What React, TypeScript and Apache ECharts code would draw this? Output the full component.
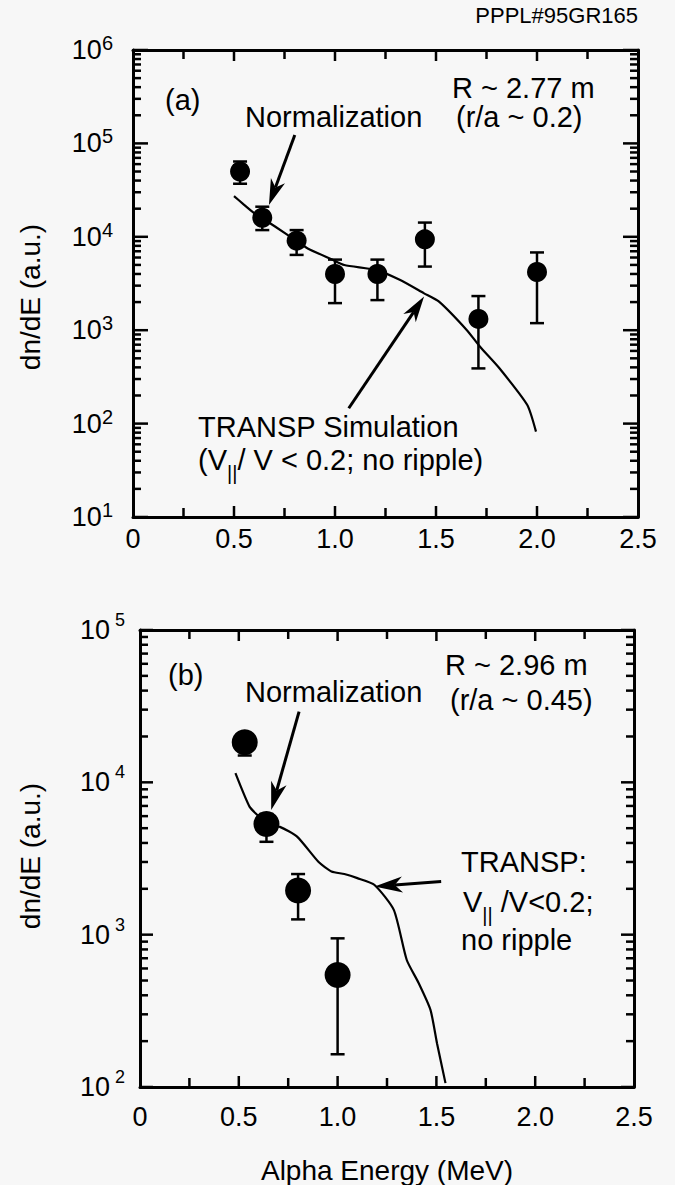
import React, { useEffect, useRef } from "react";
import * as echarts from "echarts";

const FONT = '"Liberation Sans", Arial, Helvetica, sans-serif';

// Panel (a): R ~ 2.77 m, measured alpha spectrum
const energyA = [0.53, 0.64, 0.81, 1.0, 1.21, 1.445, 1.71, 2.0];
const dndeA = [50000, 16000, 9100, 4000, 4000, 9400, 1320, 4200];
const lowA = [37000, 11800, 6400, 1950, 2100, 4800, 390, 1190];
const highA = [64000, 21000, 11800, 5700, 5700, 14200, 2320, 6800];

// Panel (a): TRANSP simulation curve
const transpEnergyA = [0.5, 0.546, 0.6, 0.64, 0.705, 0.81, 0.865, 0.983, 1.046, 1.206, 1.323, 1.441, 1.515, 1.653, 1.718, 1.814, 1.952, 1.995];
const transpA = [27300, 22400, 17900, 15800, 12800, 9000, 7500, 5740, 4990, 4400, 3440, 2480, 2020, 1000, 665, 391, 158, 82];

// Panel (b): R ~ 2.96 m, measured alpha spectrum
const energyB = [0.53, 0.64, 0.8, 1.0];
const dndeB = [18300, 5330, 1950, 543];
const lowB = [15000, 4070, 1260, 164];
const highB = [20500, 6200, 2500, 946];

// Panel (b): TRANSP simulation curve
const transpEnergyB = [0.483, 0.555, 0.6, 0.64, 0.708, 0.795, 0.904, 0.969, 1.034, 1.1, 1.187, 1.285, 1.35, 1.41, 1.47, 1.503, 1.546];
const transpB = [11500, 6900, 6000, 5300, 5100, 4400, 3000, 2600, 2500, 2350, 2120, 1450, 682, 482, 321, 194, 106];

// Annotation arrows: [fromEnergy, fromValue, toEnergy, toValue]
const arrowsA = [
  [0.801, 123000, 0.673, 21900],
  [1.068, 146, 1.441, 2290],
];
const arrowsB = [
  [0.805, 29100, 0.664, 6590],
  [1.524, 2230, 1.187, 2070],
];

// Axis ranges and tick positions
const xMajorTicks = [0.5, 1.0, 1.5, 2.0];
const xMinorTicks = [0.25, 0.75, 1.25, 1.75, 2.25];
const xRange = [0, 2.5];
const yRangeA = [1e1, 1e6];
const yRangeB = [1e2, 1e5];

const logTicks = (lo: number, hi: number) => {
  const major: number[] = [];
  const minor: number[] = [];
  for (let d = lo; d <= hi * 1.0001; d *= 10) {
    major.push(d);
    if (d < hi) for (let k = 2; k <= 9; k++) minor.push(k * d);
  }
  return { major, minor };
};

const BLACK = "#000";

const errorBarRenderer = (cap: number) => (params: any, api: any) => {
  const x = api.value(0);
  const p1 = api.coord([x, api.value(1)]);
  const p2 = api.coord([x, api.value(2)]);
  return {
    type: "group",
    children: [
      { type: "line", shape: { x1: p1[0], y1: p1[1], x2: p2[0], y2: p2[1] }, style: { stroke: BLACK, lineWidth: 2.5 } },
      { type: "line", shape: { x1: p1[0] - cap, y1: p1[1], x2: p1[0] + cap, y2: p1[1] }, style: { stroke: BLACK, lineWidth: 2.5 } },
      { type: "line", shape: { x1: p2[0] - cap, y1: p2[1], x2: p2[0] + cap, y2: p2[1] }, style: { stroke: BLACK, lineWidth: 2.5 } },
    ],
  };
};

const arrowRenderer = (headLen: number, headW: number) => (params: any, api: any) => {
  const a = api.coord([api.value(0), api.value(1)]);
  const b = api.coord([api.value(2), api.value(3)]);
  const dx = b[0] - a[0];
  const dy = b[1] - a[1];
  const d = Math.hypot(dx, dy) || 1;
  const ux = dx / d;
  const uy = dy / d;
  const nx = -uy;
  const ny = ux;
  const back = [b[0] - headLen * ux, b[1] - headLen * uy];
  const notch = [b[0] - headLen * 0.72 * ux, b[1] - headLen * 0.72 * uy];
  return {
    type: "group",
    children: [
      {
        type: "line",
        shape: { x1: a[0], y1: a[1], x2: notch[0], y2: notch[1] },
        style: { stroke: BLACK, lineWidth: 3 },
      },
      {
        type: "polygon",
        shape: {
          points: [
            [b[0], b[1]],
            [back[0] + (headW / 2) * nx, back[1] + (headW / 2) * ny],
            [notch[0], notch[1]],
            [back[0] - (headW / 2) * nx, back[1] - (headW / 2) * ny],
          ],
        },
        style: { fill: BLACK },
      },
    ],
  };
};

const mkAxisLine = () => ({ show: true, onZero: false, lineStyle: { color: BLACK, width: 3 } });

const xAxisPair = (grid: number, labelMargin: number) => [
  {
    type: "value",
    gridIndex: grid,
    position: "bottom",
    min: xRange[0],
    max: xRange[1],
    interval: 0.5,
    axisLine: mkAxisLine(),
    axisTick: { show: false },
    splitLine: { show: false },
    axisLabel: {
      margin: labelMargin,
      color: BLACK,
      fontFamily: FONT,
      fontSize: 27,
      lineHeight: 27,
      formatter: (v: number) => (v === 0 ? "0" : v.toFixed(1)),
    },
  },
  {
    type: "value",
    gridIndex: grid,
    position: "top",
    min: xRange[0],
    max: xRange[1],
    interval: 0.5,
    axisLine: mkAxisLine(),
    axisTick: { show: false },
    splitLine: { show: false },
    axisLabel: { show: false },
  },
];

const yAxisPair = (
  grid: number,
  range: number[],
  labelMargin: number,
  sup: { fontSize: number; pad: number; gap: number }
) => [
  {
    type: "log",
    gridIndex: grid,
    position: "left",
    min: range[0],
    max: range[1],
    axisLine: mkAxisLine(),
    axisTick: { show: false },
    splitLine: { show: false },
    axisLabel: {
      margin: labelMargin,
      formatter: (v: number) => `{b|10}{s|${Math.round(Math.log10(v))}}`,
      rich: {
        b: { fontFamily: FONT, fontSize: 27, lineHeight: 27, color: BLACK },
        s: {
          fontFamily: FONT,
          fontSize: sup.fontSize,
          lineHeight: sup.fontSize,
          color: BLACK,
          padding: [0, 0, sup.pad, sup.gap],
        },
      },
    },
  },
  {
    type: "log",
    gridIndex: grid,
    position: "right",
    min: range[0],
    max: range[1],
    axisLine: mkAxisLine(),
    axisTick: { show: false },
    splitLine: { show: false },
    axisLabel: { show: false },
  },
];

const txt = (text: string, x: number, y: number, size = 29, extra: any = {}) => ({
  type: "text",
  x,
  y,
  silent: true,
  style: {
    text,
    fill: BLACK,
    font: `${size}px ${FONT}`,
    align: "left",
    verticalAlign: "middle",
    ...extra,
  },
});

const vParRich = {
  m: { fontFamily: FONT, fontSize: 29, lineHeight: 29, color: BLACK },
  sub: { fontFamily: FONT, fontSize: 20, lineHeight: 20, color: BLACK, padding: [26, 0, 0, 0] },
};

const tickLine = (x1: number, y1: number, x2: number, y2: number) => ({
  type: "line",
  silent: true,
  z: 50,
  shape: { x1, y1, x2, y2 },
  style: { stroke: BLACK, lineWidth: 2.5 },
});

// Frame ticks (inward) for one panel, placed with the chart's own scales
const frameTicks = (chart: any, gridIndex: number, yRange: number[], yMajorLen: number) => {
  const px = (x: number, y: number) => chart.convertToPixel({ gridIndex }, [x, y]);
  const els: any[] = [];
  const { major, minor } = logTicks(yRange[0], yRange[1]);
  const addY = (v: number, len: number) => {
    const l = px(xRange[0], v);
    const r = px(xRange[1], v);
    els.push(tickLine(l[0], l[1], l[0] + len, l[1]));
    els.push(tickLine(r[0] - len, r[1], r[0], r[1]));
  };
  major.forEach((v) => addY(v, yMajorLen));
  minor.forEach((v) => addY(v, 8));
  const addX = (e: number, len: number) => {
    const b = px(e, yRange[0]);
    const t = px(e, yRange[1]);
    els.push(tickLine(b[0], b[1], b[0], b[1] - len));
    els.push(tickLine(t[0], t[1], t[0], t[1] + len));
  };
  xMajorTicks.forEach((e) => addX(e, 11));
  xMinorTicks.forEach((e) => addX(e, 9));
  return els;
};

export default function App() {
  const ref = useRef<HTMLDivElement>(null);

  useEffect(() => {
    if (!ref.current) return;
    const chart = echarts.init(ref.current, undefined, { renderer: "svg" });

    const texts: any[] = [
      txt("PPPL#95GR165", 638, 15, 22, { align: "right" }),
      // panel (a)
      txt("(a)", 165, 100),
      txt("Normalization", 245, 117),
      txt("R ~ 2.77 m", 452, 88),
      txt("(r/a ~ 0.2)", 456, 117),
      txt("TRANSP Simulation", 198, 427),
      {
        type: "text",
        x: 198,
        y: 460,
        silent: true,
        style: {
          text: "{m|(V}{sub|||}{m|/ V < 0.2; no ripple)}",
          rich: vParRich,
          align: "left",
          verticalAlign: "middle",
        },
      },
      {
        type: "text",
        x: 30,
        y: 297,
        rotation: Math.PI / 2,
        silent: true,
        style: { text: "dn/dE (a.u.)", fill: BLACK, font: `28px ${FONT}`, align: "center", verticalAlign: "middle" },
      },
      // panel (b)
      txt("(b)", 168, 675),
      txt("Normalization", 245, 692),
      txt("R ~ 2.96 m", 445, 665),
      txt("(r/a ~ 0.45)", 450, 700),
      txt("TRANSP:", 461, 862),
      {
        type: "text",
        x: 463,
        y: 902,
        silent: true,
        style: {
          text: "{m|V}{sub|||}{m| /V<0.2;}",
          rich: vParRich,
          align: "left",
          verticalAlign: "middle",
        },
      },
      txt("no ripple", 461, 940),
      {
        type: "text",
        x: 30,
        y: 856,
        rotation: Math.PI / 2,
        silent: true,
        style: { text: "dn/dE (a.u.)", fill: BLACK, font: `28px ${FONT}`, align: "center", verticalAlign: "middle" },
      },
      txt("Alpha Energy (MeV)", 387, 1170, 28, { align: "center" }),
    ];

    const option: any = {
      animation: false,
      backgroundColor: "#f7f7f7",
      grid: [
        { left: 133, top: 50, width: 505, height: 467 },
        { left: 140, top: 630, width: 494, height: 457 },
      ],
      xAxis: [...xAxisPair(0, 8), ...xAxisPair(1, 16)],
      yAxis: [
        ...yAxisPair(0, yRangeA, 20, { fontSize: 20, pad: 14, gap: 0 }),
        ...yAxisPair(1, yRangeB, 15, { fontSize: 18, pad: 20, gap: 5 }),
      ],
      series: [
        {
          type: "line",
          name: "TRANSP (a)",
          xAxisIndex: 0,
          yAxisIndex: 0,
          showSymbol: false,
          smooth: 0.2,
          lineStyle: { color: BLACK, width: 2.2 },
          data: transpEnergyA.map((e, i) => [e, transpA[i]]),
          z: 2,
        },
        {
          type: "line",
          name: "TRANSP (b)",
          xAxisIndex: 2,
          yAxisIndex: 2,
          showSymbol: false,
          smooth: 0.2,
          lineStyle: { color: BLACK, width: 2.2 },
          data: transpEnergyB.map((e, i) => [e, transpB[i]]),
          z: 2,
        },
        {
          type: "custom",
          name: "error (a)",
          xAxisIndex: 0,
          yAxisIndex: 0,
          renderItem: errorBarRenderer(7),
          encode: { x: 0, y: [1, 2] },
          data: energyA.map((e, i) => [e, lowA[i], highA[i]]),
          z: 3,
        },
        {
          type: "custom",
          name: "error (b)",
          xAxisIndex: 2,
          yAxisIndex: 2,
          renderItem: errorBarRenderer(7),
          encode: { x: 0, y: [1, 2] },
          data: energyB.map((e, i) => [e, lowB[i], highB[i]]),
          z: 3,
        },
        {
          type: "scatter",
          name: "data (a)",
          xAxisIndex: 0,
          yAxisIndex: 0,
          symbol: "circle",
          symbolSize: 20,
          itemStyle: { color: BLACK, opacity: 1 },
          data: energyA.map((e, i) => [e, dndeA[i]]),
          z: 4,
        },
        {
          type: "scatter",
          name: "data (b)",
          xAxisIndex: 2,
          yAxisIndex: 2,
          symbol: "circle",
          symbolSize: 26,
          itemStyle: { color: BLACK, opacity: 1 },
          data: energyB.map((e, i) => [e, dndeB[i]]),
          z: 4,
        },
        {
          type: "custom",
          name: "arrows (a)",
          xAxisIndex: 0,
          yAxisIndex: 0,
          silent: true,
          renderItem: arrowRenderer(26, 15),
          encode: { x: [0, 2], y: [1, 3] },
          data: arrowsA,
          z: 5,
        },
        {
          type: "custom",
          name: "arrows (b)",
          xAxisIndex: 2,
          yAxisIndex: 2,
          silent: true,
          renderItem: arrowRenderer(28, 16),
          encode: { x: [0, 2], y: [1, 3] },
          data: arrowsB,
          z: 5,
        },
      ],
      graphic: texts,
    };

    chart.setOption(option);

    // Frame ticks go in once the scales are laid out
    const ticks = [...frameTicks(chart, 0, yRangeA, 15), ...frameTicks(chart, 1, yRangeB, 13)];
    chart.setOption({ graphic: [...texts, ...ticks] });

    return () => chart.dispose();
  }, []);

  return (
    <div
      ref={ref}
      style={{ position: "absolute", left: 0, top: 0, width: 675, height: 1185 }}
    />
  );
}
